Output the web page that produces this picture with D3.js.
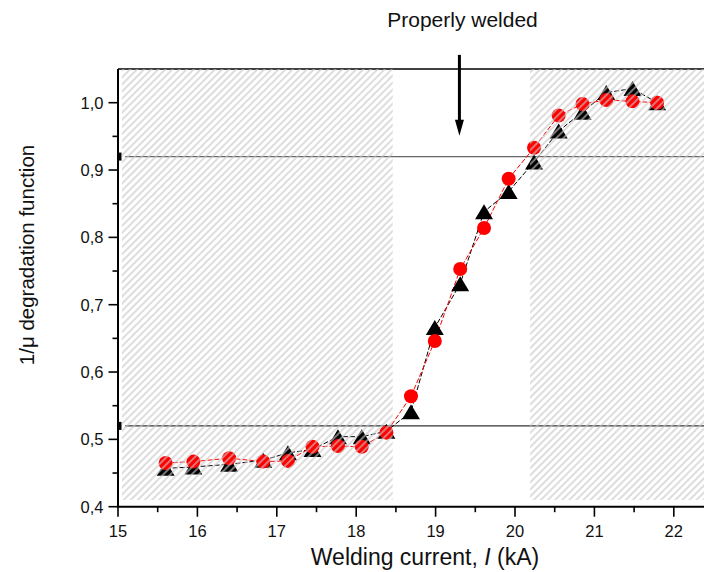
<!DOCTYPE html>
<html>
<head>
<meta charset="utf-8">
<script src="https://cdn.jsdelivr.net/npm/d3@7"></script>
<style>
  html, body { margin: 0; padding: 0; background: #fff; }
  svg { display: block; }
  text { font-family: "Liberation Sans", Arial, Helvetica, sans-serif; fill: #111; }
</style>
</head>
<body>
<script>
// ---- data ----
const current = [15.60, 15.95, 16.40, 16.83, 17.14, 17.45, 17.77, 18.07, 18.38, 18.69,
                 18.99, 19.31, 19.61, 19.92, 20.24, 20.55, 20.85, 21.15, 21.48, 21.79];
const seriesRed   = [0.465, 0.467, 0.472, 0.467, 0.468, 0.489, 0.490, 0.489, 0.510, 0.564,
                     0.646, 0.753, 0.814, 0.887, 0.933, 0.981, 0.998, 1.004, 1.002, 1.000];
const seriesBlack = [0.457, 0.459, 0.463, 0.469, 0.480, 0.485, 0.504, 0.504, 0.512, 0.541,
                     0.666, 0.731, 0.838, 0.868, 0.912, 0.958, 0.986, 1.015, 1.021, 1.000];
const xTicks = [15, 16, 17, 18, 19, 20, 21, 22];
const yTicks = [0.4, 0.5, 0.6, 0.7, 0.8, 0.9, 1.0];
const refLines = [0.92, 0.52];            // horizontal limit lines
const topLimit = 1.05;                    // top of frame
const hatchZones = [[15.05, 18.46], [20.19, 22.6]];
const hatchBottom = 0.41;
const arrowX = 19.3, arrowFrom = 1.071, arrowTo = 0.951;
const annotation = "Properly welded";

const W = 704, H = 572;
const svg = d3.select("body").append("svg").attr("width", W).attr("height", H);

const x = d3.scaleLinear().domain([15, 22.4]).range([118, 118 + 79.4 * 7.4]);
const y = d3.scaleLinear().domain([0.4, 1.0]).range([506.7, 102.7]);

// hatch pattern
const defs = svg.append("defs");
const pat = defs.append("pattern").attr("id", "hatch")
  .attr("patternUnits", "userSpaceOnUse").attr("width", 5).attr("height", 10)
  .attr("patternTransform", "rotate(45)");
pat.append("line").attr("x1", 1).attr("y1", 0).attr("x2", 1).attr("y2", 10)
  .attr("stroke", "#c6c6c6").attr("stroke-width", 1.2);
defs.append("clipPath").attr("id", "clipR").append("rect")
  .attr("x", 0).attr("y", 0).attr("width", W).attr("height", H);

// reference lines
const refColors = ["#666", "#333"];
refLines.forEach((v, i) => {
  svg.append("line").attr("x1", x(15.09)).attr("x2", W)
    .attr("y1", y(v)).attr("y2", y(v))
    .attr("stroke", refColors[i]).attr("stroke-width", 1.3);
  svg.append("rect").attr("x", x(15)).attr("y", y(v) - 4)
    .attr("width", 3.5).attr("height", 8).attr("fill", "#000");
});
// top frame line
svg.append("line").attr("x1", x(15)).attr("x2", W)
  .attr("y1", y(topLimit)).attr("y2", y(topLimit))
  .attr("stroke", "#000").attr("stroke-width", 1.6);

// series lines
const line = (vals) => d3.line().x((d, i) => x(current[i])).y(d => y(d))(vals);
svg.append("path").attr("d", line(seriesBlack)).attr("fill", "none")
  .attr("stroke", "#000").attr("stroke-width", 1).attr("stroke-dasharray", "5,2");
svg.append("path").attr("d", line(seriesRed)).attr("fill", "none")
  .attr("stroke", "#ff0000").attr("stroke-width", 1).attr("stroke-dasharray", "5,2");

// markers
const tw = 18, th = 15;
svg.append("g").selectAll("path").data(seriesBlack).join("path")
  .attr("d", (d, i) => {
    const cx = x(current[i]), cy = y(d);
    return `M${cx},${cy - th / 2}L${cx + tw / 2},${cy + th / 2}L${cx - tw / 2},${cy + th / 2}Z`;
  }).attr("fill", "#000");
svg.append("g").selectAll("circle").data(seriesRed).join("circle")
  .attr("cx", (d, i) => x(current[i])).attr("cy", d => y(d)).attr("r", 7)
  .attr("fill", "#ff0000");

// hatched zones on top
svg.append("g").attr("clip-path", "url(#clipR)").selectAll("rect").data(hatchZones).join("rect")
  .attr("x", d => x(d[0])).attr("width", d => x(d[1]) - x(d[0]))
  .attr("y", y(topLimit)).attr("height", y(hatchBottom) - y(topLimit))
  .attr("fill", "url(#hatch)");

// axes
const xAxisG = svg.append("g").attr("transform", `translate(0,${y(0.4)})`);
xAxisG.append("line").attr("x1", x(15) - 1).attr("x2", W).attr("stroke", "#000").attr("stroke-width", 2);
const xMinor = d3.range(15.5, 22.4, 1);
xAxisG.selectAll(".maj").data(xTicks).join("line")
  .attr("x1", d => x(d)).attr("x2", d => x(d)).attr("y1", 0).attr("y2", 10)
  .attr("stroke", "#000").attr("stroke-width", 1.6);
xAxisG.selectAll(".min").data(xMinor).join("line")
  .attr("x1", d => x(d)).attr("x2", d => x(d)).attr("y1", 0).attr("y2", 5.5)
  .attr("stroke", "#000").attr("stroke-width", 1.6);
xAxisG.selectAll("text").data(xTicks).join("text")
  .attr("x", d => x(d)).attr("y", 30).attr("text-anchor", "middle")
  .attr("font-size", 16.5).text(d => d);

const yAxisG = svg.append("g").attr("transform", `translate(${x(15)},0)`);
yAxisG.append("line").attr("y1", y(topLimit)).attr("y2", y(0.4) + 1).attr("stroke", "#000").attr("stroke-width", 2);
const yMinor = d3.range(0.45, 1.04, 0.1);
yAxisG.selectAll(".maj").data(yTicks).join("line")
  .attr("y1", d => y(d)).attr("y2", d => y(d)).attr("x1", 0).attr("x2", -9.5)
  .attr("stroke", "#000").attr("stroke-width", 1.6);
yAxisG.selectAll(".min").data(yMinor).join("line")
  .attr("y1", d => y(d)).attr("y2", d => y(d)).attr("x1", 0).attr("x2", -5.5)
  .attr("stroke", "#000").attr("stroke-width", 1.6);
const fmt = d3.format(".1f");
yAxisG.selectAll("text").data(yTicks).join("text")
  .attr("x", -14.5).attr("y", d => y(d)).attr("dy", "0.36em").attr("text-anchor", "end")
  .attr("font-size", 16.5).text(d => fmt(d).replace(".", ","));

// axis titles
const xt = svg.append("text").attr("x", 425).attr("y", 565).attr("text-anchor", "middle")
  .attr("font-size", 23);
xt.append("tspan").text("Welding current, ");
xt.append("tspan").attr("font-style", "italic").text("I");
xt.append("tspan").text(" (kA)");

svg.append("text").attr("transform", `translate(34,255) rotate(-90)`)
  .attr("text-anchor", "middle").attr("font-size", 20.5).text("1/μ degradation function");

// annotation arrow
svg.append("line").attr("x1", x(arrowX)).attr("x2", x(arrowX))
  .attr("y1", y(arrowFrom)).attr("y2", y(arrowTo) - 10)
  .attr("stroke", "#000").attr("stroke-width", 3);
svg.append("path")
  .attr("d", `M${x(arrowX) - 4.5},${y(arrowTo) - 16}L${x(arrowX) + 4.5},${y(arrowTo) - 16}L${x(arrowX)},${y(arrowTo)}Z`)
  .attr("fill", "#000");
svg.append("text").attr("x", 462.5).attr("y", 26.7).attr("text-anchor", "middle")
  .attr("font-size", 21).text(annotation);
</script>
</body>
</html>
